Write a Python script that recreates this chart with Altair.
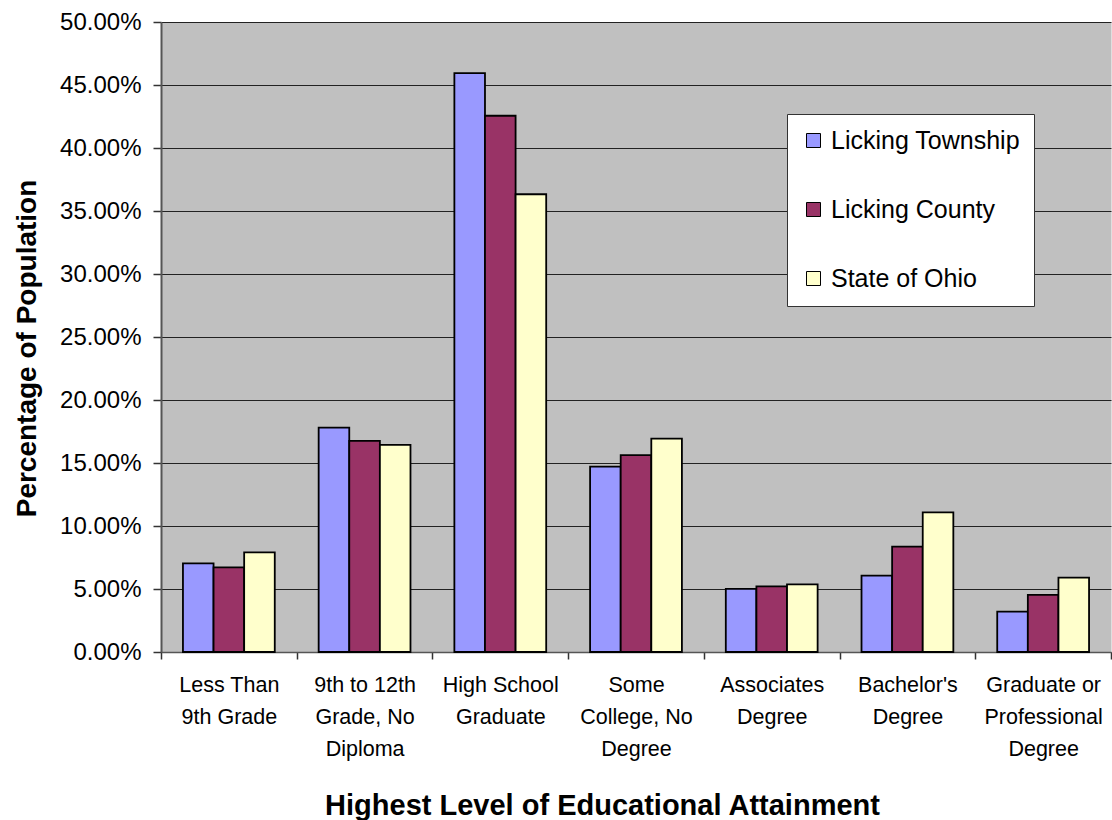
import altair as alt
import pandas as pd

# Educational attainment shares (fraction of population 25+)
categories = [
    "Less Than\n9th Grade",
    "9th to 12th\nGrade, No\nDiploma",
    "High School\nGraduate",
    "Some\nCollege, No\nDegree",
    "Associates\nDegree",
    "Bachelor's\nDegree",
    "Graduate or\nProfessional\nDegree",
]
series = ["Licking Township", "Licking County", "State of Ohio"]
township = [0.0704, 0.1781, 0.4595, 0.1472, 0.0501, 0.0606, 0.0321]
county = [0.0672, 0.1676, 0.4256, 0.1563, 0.0521, 0.0836, 0.0453]
ohio = [0.0791, 0.1644, 0.3633, 0.1694, 0.0537, 0.1108, 0.0590]
colors = ["#9999FF", "#993366", "#FFFFCC"]
y_ticks = [0.0, 0.05, 0.10, 0.15, 0.20, 0.25, 0.30, 0.35, 0.40, 0.45, 0.50]

rows = []
for s, vals in zip(series, [township, county, ohio]):
    for c, v in zip(categories, vals):
        rows.append({"category": c, "series": s, "value": v})
df = pd.DataFrame(rows)

FONT = "Liberation Sans"

chart = (
    alt.Chart(df)
    .mark_bar(stroke="black", strokeWidth=1.8)
    .encode(
        x=alt.X(
            "category:N",
            sort=categories,
            scale=alt.Scale(paddingInner=0, paddingOuter=0),
            axis=alt.Axis(
                title="Highest Level of Educational Attainment",
                titleFont=FONT,
                titleFontSize=29,
                titleFontWeight="bold",
                titleColor="black",
                titleX=441,
                titleY=162,
                titleAlign="center",
                titleBaseline="alphabetic",
                labelExpr="split(datum.label, '\\n')",
                labelAngle=0,
                labelFont=FONT,
                labelFontSize=21.5,
                labelLineHeight=32,
                labelColor="black",
                labelBaseline="top",
                labelPadding=15,
                labelLimit=200,
                tickBand="extent",
                tickSize=7,
                tickColor="#333333",
                tickWidth=1.5,
                domainColor="#555555",
                domainWidth=1.5,
                grid=False,
            ),
        ),
        xOffset=alt.XOffset(
            "series:N",
            sort=series,
            scale=alt.Scale(paddingInner=0, paddingOuter=0.717),
        ),
        y=alt.Y(
            "value:Q",
            scale=alt.Scale(domain=[0, 0.5], nice=False),
            axis=alt.Axis(
                values=y_ticks,
                format=".2%",
                title="Percentage of Population",
                titleFont=FONT,
                titleFontSize=28,
                titleFontWeight="bold",
                titleColor="black",
                titleAngle=270,
                titleX=-134,
                titleY=326,
                titleAlign="center",
                titleBaseline="middle",
                labelFont=FONT,
                labelFontSize=24,
                labelColor="black",
                labelPadding=12,
                tickSize=8,
                tickColor="#333333",
                tickWidth=1.5,
                domainColor="#555555",
                domainWidth=2,
                grid=True,
                gridColor="#222222",
                gridWidth=1,
            ),
        ),
        color=alt.Color(
            "series:N",
            sort=series,
            scale=alt.Scale(domain=series, range=colors),
            title=None,
            legend=alt.Legend(
                orient="none",
                legendX=626,
                legendY=92,
                fillColor="white",
                strokeColor="#333333",
                padding=14,
                rowPadding=43,
                symbolType="square",
                symbolSize=196,
                symbolStrokeColor="black",
                symbolStrokeWidth=1,
                symbolOpacity=1,
                labelFont=FONT,
                labelFontSize=25,
                labelColor="black",
                labelOffset=5,
                labelLimit=300,
            ),
        ),
    )
    .properties(
        width=950,
        height=630,
        autosize=alt.AutoSizeParams(type="none"),
        padding={"left": 161, "top": 22, "right": 1, "bottom": 168},
        background="white",
    )
    .configure_view(fill="#C0C0C0", strokeOpacity=0)
)

chart.save("out.html", embed_options={"renderer": "svg", "actions": False})
